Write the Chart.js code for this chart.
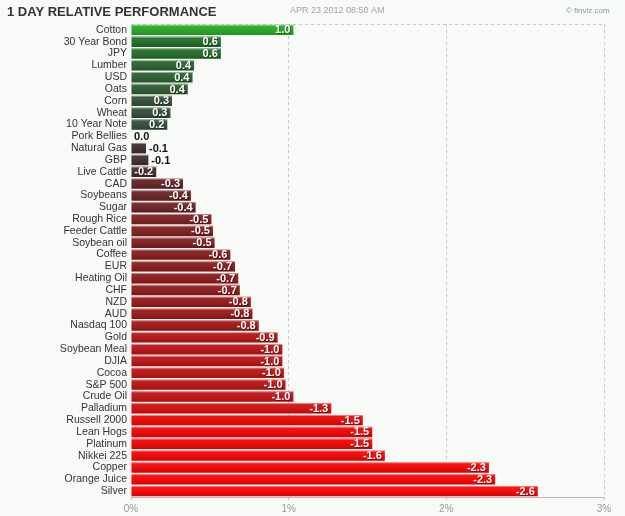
<!DOCTYPE html>
<html>
<head>
<meta charset="utf-8">
<script src="https://cdn.jsdelivr.net/npm/chart.js@4/dist/chart.umd.min.js"></script>
<style>
  html, body { margin: 0; padding: 0; background: #f7faf7; }
  #wrap { width: 625px; height: 516px; position: relative; }
</style>
</head>
<body>
<div id="wrap"><canvas id="perf"></canvas></div>
<script>
// categories top to bottom
var names = ['Cotton','30 Year Bond','JPY','Lumber','USD','Oats','Corn','Wheat','10 Year Note','Pork Bellies',
  'Natural Gas','GBP','Live Cattle','CAD','Soybeans','Sugar','Rough Rice','Feeder Cattle','Soybean oil','Coffee',
  'EUR','Heating Oil','CHF','NZD','AUD','Nasdaq 100','Gold','Soybean Meal','DJIA','Cocoa',
  'S&P 500','Crude Oil','Palladium','Russell 2000','Lean Hogs','Platinum','Nikkei 225','Copper','Orange Juice','Silver'];

// 1 day change in %
var change = [1.03,0.57,0.57,0.40,0.39,0.36,0.26,0.25,0.23,0.0,
  -0.095,-0.11,-0.16,-0.33,-0.38,-0.41,-0.51,-0.52,-0.53,-0.63,
  -0.66,-0.68,-0.69,-0.76,-0.77,-0.81,-0.93,-0.96,-0.96,-0.97,
  -0.98,-1.03,-1.27,-1.47,-1.53,-1.53,-1.61,-2.27,-2.31,-2.58];

var xTicks = [0, 1, 2, 3];

var greenStops = [[0,[58,63,58]],[0.2,[50,72,58]],[0.3,[44,78,48]],[0.4,[39,95,44]],[0.6,[29,108,36]],[1.0,[34,168,34]]];
var redStops = [[0,[60,44,46]],[0.1,[61,42,44]],[0.2,[70,39,41]],[0.3,[92,32,34]],[0.5,[122,27,28]],[0.7,[141,22,22]],
  [0.8,[158,19,19]],[1.0,[191,15,15]],[1.3,[212,8,8]],[1.5,[242,0,0]],[3,[255,0,0]]];

function pickColor(v){
  var stops = v >= 0 ? greenStops : redStops;
  var a = Math.abs(v);
  for (var i = 1; i < stops.length; i++) {
    if (a <= stops[i][0]) {
      var t = (a - stops[i-1][0]) / (stops[i][0] - stops[i-1][0]);
      var c = stops[i-1][1].map(function(x, k){ return Math.round(x + (stops[i][1][k] - x) * t); });
      return 'rgb(' + c.join(',') + ')';
    }
  }
  return 'rgb(' + stops[stops.length-1][1].join(',') + ')';
}

var FONT = 'Arial, "Liberation Sans", sans-serif';

var decoPlugin = {
  id: 'deco',
  beforeDraw: function(chart){
    var c = chart.ctx;
    c.save();
    c.fillStyle = '#f7faf7';
    c.fillRect(0, 0, chart.width, chart.height);
    c.textBaseline = 'middle';
    c.fillStyle = '#333';
    c.font = 'bold 13px ' + FONT;
    c.fillText('1 DAY RELATIVE PERFORMANCE', 7, 12);
    c.fillStyle = '#a0a4a0';
    c.font = '9px ' + FONT;
    c.fillText('APR 23 2012 08:50 AM', 290, 11);
    c.fillStyle = '#7f9cb0';
    c.font = '8px ' + FONT;
    c.fillText('\u00a9 finviz.com', 566, 11);
    // dashed top border of plot
    var a = chart.chartArea;
    c.strokeStyle = '#c8c8c8';
    c.setLineDash([3, 3]);
    c.lineWidth = 1;
    c.beginPath();
    c.moveTo(a.left, a.top + 0.5);
    c.lineTo(a.right, a.top + 0.5);
    c.stroke();
    c.restore();
  },
  afterDatasetsDraw: function(chart){
    var c = chart.ctx;
    var meta = chart.getDatasetMeta(0);
    c.save();
    meta.data.forEach(function(bar, i){
      var top = bar.y - bar.height / 2;
      var w = bar.x - bar.base;
      if (w > 0) {
        var g = c.createLinearGradient(0, top, 0, top + bar.height);
        g.addColorStop(0, 'rgba(255,255,255,0.28)');
        g.addColorStop(0.15, 'rgba(255,255,255,0.08)');
        g.addColorStop(1, 'rgba(0,0,0,0.12)');
        c.fillStyle = g;
        c.fillRect(bar.base, top, w, bar.height);
        c.fillStyle = 'rgba(255,255,255,0.35)';
        c.fillRect(bar.base, top, w, 1);
      }
      var txt = change[i].toFixed(1);
      c.font = 'bold 11px ' + FONT;
      c.textBaseline = 'middle';
      var tw = c.measureText(txt).width;
      if (w > tw + 5) {
        c.textAlign = 'right';
        c.fillStyle = 'rgba(0,0,0,0.35)';
        c.fillText(txt, bar.x - 2, bar.y + 1.5);
        c.fillStyle = '#fff';
        c.fillText(txt, bar.x - 3, bar.y + 0.5);
      } else {
        c.textAlign = 'left';
        c.fillStyle = '#111';
        c.fillText(txt, bar.x + 3, bar.y + 0.5);
      }
    });
    // solid bottom axis line
    var a = chart.chartArea;
    c.strokeStyle = '#bbb';
    c.lineWidth = 1;
    c.setLineDash([]);
    c.beginPath();
    c.moveTo(a.left, a.bottom + 0.5);
    c.lineTo(a.right, a.bottom + 0.5);
    c.stroke();
    c.restore();
  }
};

new Chart(document.getElementById('perf').getContext('2d'), {
  type: 'bar',
  data: {
    labels: names,
    datasets: [{
      data: change.map(function(v){ return Math.abs(v); }),
      backgroundColor: change.map(pickColor),
      borderWidth: 0,
      barPercentage: 0.88,
      categoryPercentage: 1
    }]
  },
  options: {
    indexAxis: 'y',
    responsive: true,
    maintainAspectRatio: false,
    animation: false,
    layout: { padding: { top: 24, right: 21, left: 0, bottom: 0 } },
    plugins: {
      legend: { display: false },
      tooltip: { enabled: false }
    },
    scales: {
      x: {
        min: 0,
        max: 3,
        afterBuildTicks: function(s){ s.ticks = xTicks.map(function(v){ return { value: v }; }); },
        afterFit: function(s){ s.height = 19; },
        ticks: {
          callback: function(v){ return v + '%'; },
          color: '#999',
          font: { family: FONT, size: 10 },
          padding: 3,
          maxRotation: 0
        },
        grid: {
          color: function(ctx){ return ctx.tick && ctx.tick.value === 0 ? 'rgba(0,0,0,0)' : '#c8c8c8'; },
          tickColor: '#bbb',
          tickLength: 3,
          tickBorderDash: [],
          drawOnChartArea: true
        },
        border: { display: false, dash: [3, 3] }
      },
      y: {
        afterFit: function(s){ s.width = 131; },
        ticks: {
          color: '#333',
          font: { family: FONT, size: 10.5 },
          padding: 4,
          autoSkip: false
        },
        grid: { display: false, drawTicks: false },
        border: { display: false }
      }
    }
  },
  plugins: [decoPlugin]
});
</script>
</body>
</html>
